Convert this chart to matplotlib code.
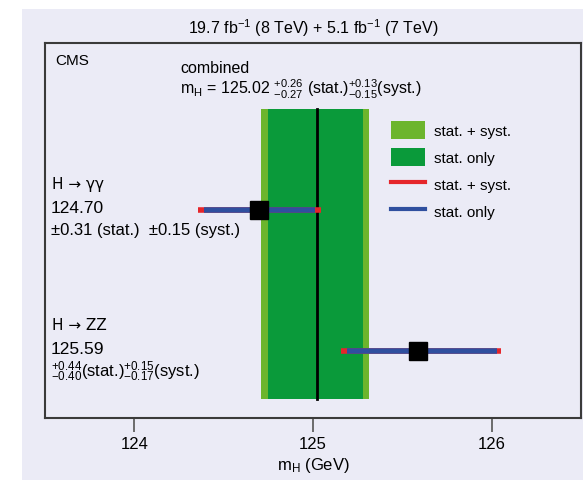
import matplotlib
matplotlib.use("Agg")
import matplotlib.pyplot as plt
from matplotlib.patches import Rectangle, Patch
from matplotlib.lines import Line2D

plt.rcParams['font.family'] = ['Liberation Sans', 'DejaVu Sans']
plt.rcParams['mathtext.fontset'] = 'custom'
plt.rcParams['mathtext.rm'] = 'Liberation Sans'
plt.rcParams['mathtext.it'] = 'Liberation Sans:italic'
plt.rcParams['mathtext.bf'] = 'Liberation Sans:bold'

# combined result
comb_mass = 125.02
comb_stat = (0.27, 0.26)      # (down, up)
comb_syst = (0.15, 0.13)

# individual channels
channels = ['H → γγ', 'H → ZZ']
ch_mass = [124.70, 125.59]
ch_stat_dn = [0.31, 0.40]
ch_stat_up = [0.31, 0.44]
ch_syst_dn = [0.15, 0.17]
ch_syst_up = [0.15, 0.15]
ch_ypos = [0.555, 0.179]
ch_labels = [r'124.70', r'125.59']
ch_errtext = [r'±0.31 (stat.)  ±0.15 (syst.)',
              r'$^{+0.44}_{-0.40}$(stat.)$^{+0.15}_{-0.17}$(syst.)']

xticks = [124, 125, 126]

light_green = '#6cb52d'
dark_green = '#0a9a3a'
red = '#e5262b'
blue = '#2f4f9f'
bg = '#ebebf6'
spine_col = '#3a3a3a'

fig = plt.figure(figsize=(5.83, 4.81), dpi=100)
fig.patches.append(Rectangle((22 / 583, 0), 1, 471 / 481, transform=fig.transFigure,
                             facecolor=bg, edgecolor='none', zorder=-10))
ax = fig.add_axes([45 / 583, 62 / 481, 536 / 583, 375 / 481])
ax.set_facecolor(bg)
ax.set_xlim(123.5, 126.5)
ax.set_ylim(0, 1)

# combined bands
tot_dn = (comb_stat[0] ** 2 + comb_syst[0] ** 2) ** 0.5
tot_up = (comb_stat[1] ** 2 + comb_syst[1] ** 2) ** 0.5
ax.fill_betweenx([0.05, 0.824], comb_mass - tot_dn, comb_mass + tot_up,
                 color=light_green, lw=0, zorder=1)
ax.fill_betweenx([0.05, 0.824], comb_mass - comb_stat[0], comb_mass + comb_stat[1],
                 color=dark_green, lw=0, zorder=2)
ax.plot([comb_mass, comb_mass], [0.05, 0.824], color='black', lw=2, zorder=3)

# channel error bars
for i in range(len(channels)):
    m = ch_mass[i]
    y = ch_ypos[i]
    tdn = (ch_stat_dn[i] ** 2 + ch_syst_dn[i] ** 2) ** 0.5
    tup = (ch_stat_up[i] ** 2 + ch_syst_up[i] ** 2) ** 0.5
    ax.plot([m - tdn, m + tup], [y, y], color=red, lw=4, solid_capstyle='butt', zorder=4)
    ax.plot([m - ch_stat_dn[i], m + ch_stat_up[i]], [y, y], color=blue, lw=4,
            solid_capstyle='butt', zorder=5)
    ax.plot([m], [y], marker='s', color='black', markersize=13, zorder=6)

    ax.text(0.013, y + 0.07, channels[i], transform=ax.transAxes, fontsize=11,
            va='center', ha='left', family=['DejaVu Sans'])
    ax.text(0.01, y + 0.007, ch_labels[i], transform=ax.transAxes, fontsize=12.5,
            va='center', ha='left')
    ax.text(0.012, y - 0.052, ch_errtext[i], transform=ax.transAxes, fontsize=12,
            va='center', ha='left')

ax.text(0.02, 0.955, 'CMS', transform=ax.transAxes, fontsize=11, va='center', ha='left')
ax.text(0.252, 0.935, 'combined', transform=ax.transAxes, fontsize=11.5, va='center', ha='left')
ax.text(0.252, 0.88, r'm$_\mathrm{H}$ = 125.02 $^{+0.26}_{-0.27}$ (stat.)$^{+0.13}_{-0.15}$(syst.)',
        transform=ax.transAxes, fontsize=11.5, va='center', ha='left')

handles = [Patch(facecolor=light_green, edgecolor='none'),
           Patch(facecolor=dark_green, edgecolor='none'),
           Line2D([], [], color=red, lw=3),
           Line2D([], [], color=blue, lw=3)]
labels = ['stat. + syst.', 'stat. only', 'stat. + syst.', 'stat. only']
ax.legend(handles, labels, loc='upper left', bbox_to_anchor=(0.62, 0.83), frameon=False,
          fontsize=11, handlelength=2.2, handleheight=1.5, labelspacing=0.55,
          handletextpad=0.6)

ax.set_xticks(xticks)
ax.set_xticklabels([str(t) for t in xticks], fontsize=12)
ax.set_yticks([])
ax.tick_params(axis='x', direction='out', length=10, width=1.2, color='#555555', pad=3)
for s in ax.spines.values():
    s.set_color(spine_col)
    s.set_linewidth(1.5)
ax.set_xlabel(r'm$_\mathrm{H}$ (GeV)', fontsize=12, labelpad=3)

ax.set_title(r'19.7 fb$^{-1}$ (8 TeV) + 5.1 fb$^{-1}$ (7 TeV)', fontsize=11.5, pad=7)

fig.savefig('out.png', dpi=100)
